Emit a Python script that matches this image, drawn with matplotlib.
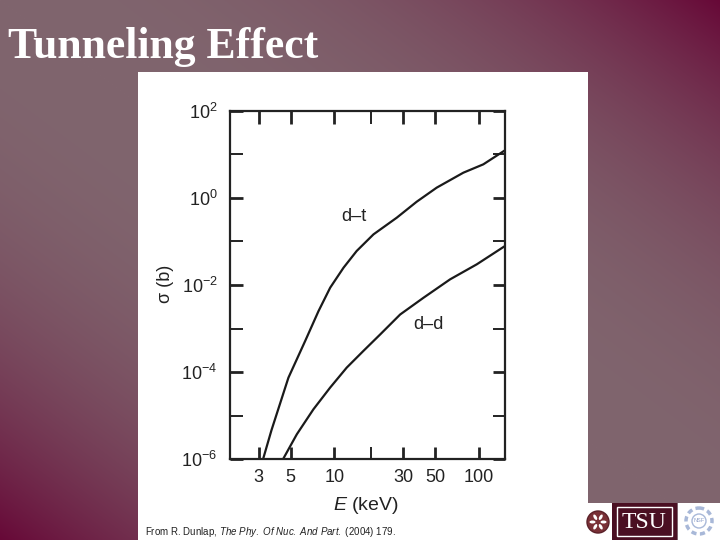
import numpy as np
import matplotlib
matplotlib.use("Agg")
import matplotlib.pyplot as plt
from matplotlib.patches import Rectangle, Circle, Ellipse
from matplotlib.ticker import FixedLocator, FixedFormatter, NullFormatter

plt.rcParams['font.family'] = ['Liberation Sans', 'DejaVu Sans']
plt.rcParams['mathtext.fontset'] = 'custom'
plt.rcParams['mathtext.rm'] = 'Liberation Sans'
plt.rcParams['mathtext.it'] = 'Liberation Sans:italic'
plt.rcParams['mathtext.default'] = 'regular'

# ---- data ----
E_dt = [3.22, 3.68, 4.82, 6.30, 7.78, 9.38, 11.6, 14.3, 18.7, 27.1, 37.2, 51.2, 78.3, 107.6, 152]
sig_dt = [1.0e-6, 4.6e-6, 7.4e-5, 5.2e-4, 2.5e-3, 8.7e-3, 2.5e-2, 6.05e-2, 0.146, 0.353, 0.82,
          1.73, 3.82, 5.94, 12.5]

E_dd = [4.43, 5.51, 7.18, 9.38, 12.2, 15.9, 20.8, 28.6, 41.5, 63.4, 97, 152]
sig_dd = [1.0e-6, 3.7e-6, 1.39e-5, 4.4e-5, 1.26e-4, 3.04e-4, 7.3e-4, 2.1e-3, 5.1e-3, 1.35e-2,
          2.99e-2, 7.88e-2]

x_major = [3, 5, 10, 30, 50, 100]
x_major_labels = ['3', '5', '10', '30', '50', '100']
x_minor = [18]
y_major = [1e-6, 1e-4, 1e-2, 1e0, 1e2]
y_major_labels = [r'$10^{-6}$', r'$10^{-4}$', r'$10^{-2}$', r'$10^{0}$', r'$10^{2}$']
y_minor = [1e-5, 1e-3, 1e-1, 1e1]

W, H = 720, 540
fig = plt.figure(figsize=(7.2, 5.4), dpi=100)

# ---- slide background ----
bg = fig.add_axes([0, 0, 1, 1], zorder=0)
bg.set_xlim(0, W)
bg.set_ylim(H, 0)
bg.axis('off')
yy, xx = np.mgrid[0:H, 0:W]
t = np.abs(xx / W - yy / H) ** 2.5
light = np.array([128, 101, 110]) / 255.0
dark = np.array([103, 8, 55]) / 255.0
img = light[None, None, :] * (1 - t[..., None]) + dark[None, None, :] * t[..., None]
bg.imshow(img, extent=(0, W, H, 0), aspect='auto', interpolation='bilinear')

# white figure panel
bg.add_patch(Rectangle((138, 72), 450, 468, facecolor='white', edgecolor='none'))

# title
bg.text(8, 58, 'Tunneling Effect', family='Liberation Serif', fontweight='bold',
        fontsize=31.5, color='white', ha='left', va='baseline')

# citation
bg.text(145, 535, r'From R. Dunlap, $\mathit{The\ Phy.\ Of\ Nuc.\ And\ Part.}$ (2004) 179.',
        fontsize=7, color='#222222', ha='left', va='baseline')

# logos
bg.add_patch(Rectangle((588, 503), 24, 37, facecolor='white', edgecolor='none'))
bg.add_patch(Circle((598, 522), 11, facecolor='#7a3036', edgecolor='#5a2028'))
for k in range(6):
    a = np.pi / 3 * k
    bg.add_patch(Ellipse((598 + 5.5 * np.cos(a), 522 + 5.5 * np.sin(a)), 6, 3,
                         angle=np.degrees(a), facecolor='white', edgecolor='none'))
bg.add_patch(Rectangle((612, 503), 65, 37, facecolor='#4a0f22', edgecolor='none'))
bg.add_patch(Rectangle((617, 507), 55, 29, facecolor='none', edgecolor='white', lw=1))
bg.text(644.5, 522, 'TSU', family='Liberation Serif', fontsize=17, color='white',
        ha='center', va='center')
bg.add_patch(Rectangle((678, 503), 42, 37, facecolor='white', edgecolor='none'))
bg.add_patch(Circle((699, 521), 13, facecolor='none', edgecolor='#a8b8d8', lw=2.5, ls=(0, (1.5, 1))))
bg.add_patch(Circle((699, 521), 7, facecolor='none', edgecolor='#a8b8d8', lw=1))
bg.text(699, 521, 'NSF', fontsize=4, color='#8ea0c8', ha='center', va='center')

# ---- the chart ----
ax = fig.add_axes([230 / W, 1 - 459 / H, 275 / W, 348 / H], zorder=2)
ax.set_facecolor('white')
ax.plot(E_dt, sig_dt, color='#1a1a1a', lw=1.6, solid_joinstyle='round')
ax.plot(E_dd, sig_dd, color='#1a1a1a', lw=1.6, solid_joinstyle='round')
ax.set_xscale('log')
ax.set_yscale('log')
ax.set_xlim(1.9, 152)
ax.set_ylim(1e-6, 1e2)

ax.xaxis.set_major_locator(FixedLocator(x_major))
ax.xaxis.set_major_formatter(FixedFormatter(x_major_labels))
ax.xaxis.set_minor_locator(FixedLocator(x_minor))
ax.xaxis.set_minor_formatter(NullFormatter())
ax.yaxis.set_major_locator(FixedLocator(y_major))
ax.yaxis.set_major_formatter(FixedFormatter(y_major_labels))
ax.yaxis.set_minor_locator(FixedLocator(y_minor))
ax.yaxis.set_minor_formatter(NullFormatter())

ax.tick_params(which='both', direction='in', top=True, right=True,
               length=9, color='#222222', labelsize=13, labelcolor='#222222')
ax.tick_params(which='major', width=2)
ax.tick_params(which='minor', width=1.4)
ax.tick_params(axis='x', pad=7)
ax.tick_params(axis='y', pad=9)
for s in ax.spines.values():
    s.set_linewidth(1.6)
    s.set_color('#222222')

ax.text(13.6, 0.38, 'd\u2013t', fontsize=13, color='#222222', ha='center', va='center')
ax.text(44.9, 1.25e-3, 'd\u2013d', fontsize=13, color='#222222', ha='center', va='center')

ax.set_xlabel(r'$\mathit{E}$ (keV)', fontsize=14, color='#222222', va='center')
ax.xaxis.set_label_coords((366 - 230) / 275, -(505 - 459) / 348)
ax.set_ylabel('\u03c3 (b)', fontsize=13, color='#222222', va='center', ha='center')
ax.yaxis.set_label_coords((166 - 230) / 275, (459 - 284) / 348)

fig.savefig('out.png', dpi=100)
